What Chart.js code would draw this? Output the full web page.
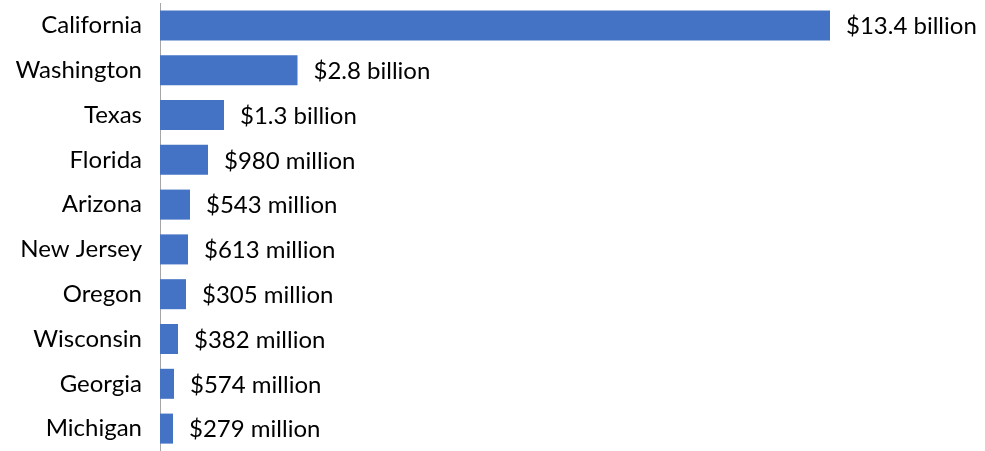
<!DOCTYPE html>
<html>
<head>
<meta charset="utf-8">
<script src="https://cdn.jsdelivr.net/npm/chart.js@4/dist/chart.umd.min.js"></script>
<style>
  html, body { margin: 0; padding: 0; background: #fff; }
  #wrap { width: 985px; height: 451px; }
</style>
</head>
<body>
<div id="wrap"><canvas id="myChart"></canvas></div>
<script>
// Estados (categorias)
var estados = ['California', 'Washington', 'Texas', 'Florida', 'Arizona',
  'New Jersey', 'Oregon', 'Wisconsin', 'Georgia', 'Michigan'];

// Largo de las barras (miles de millones)
var valores = [13.4, 2.75, 1.28, 0.96, 0.60, 0.56, 0.52, 0.36, 0.28, 0.26];

// Etiquetas que se muestran al final de cada barra
var etiquetas = ['$13.4 billion', '$2.8 billion', '$1.3 billion', '$980 million',
  '$543 million', '$613 million', '$305 million', '$382 million',
  '$574 million', '$279 million'];

var fuente = { family: 'Lato, "Open Sans", sans-serif', size: 24 };

// Plugin para dibujar las etiquetas al lado de las barras
var etiquetasPlugin = {
  id: 'etiquetas',
  afterDatasetsDraw: function(chart) {
    var c = chart.ctx;
    var meta = chart.getDatasetMeta(0);
    c.save();
    c.font = fuente.size + 'px ' + fuente.family;
    c.fillStyle = '#000';
    c.textAlign = 'left';
    c.textBaseline = 'middle';
    for (var i = 0; i < meta.data.length; i++) {
      var bar = meta.data[i];
      c.fillText(etiquetas[i], bar.x + 16, bar.y + 1);
    }
    c.restore();
  }
};

var ctx = document.getElementById('myChart').getContext('2d');
var myChart = new Chart(ctx, {
  type: 'bar',
  data: {
    labels: estados,
    datasets: [{
      data: valores,
      backgroundColor: '#4472C4',
      categoryPercentage: 1,
      barPercentage: 0.67
    }]
  },
  options: {
    indexAxis: 'y',
    responsive: true,
    maintainAspectRatio: false,
    animation: false,
    layout: { padding: { top: 3, right: 155, bottom: -4, left: 0 } },
    plugins: { legend: { display: false }, tooltip: { enabled: false } },
    scales: {
      x: { display: false, min: 0, max: 13.4 },
      y: {
        grid: { display: false, drawTicks: false },
        border: { display: true, color: '#a6a6a6', width: 1 },
        ticks: { color: '#000', font: fuente, padding: 18 },
        afterFit: function(scale) {
          scale.width = 160;
          scale.paddingTop = 0;
          scale.paddingBottom = 0;
        }
      }
    }
  },
  plugins: [etiquetasPlugin]
});
</script>
</body>
</html>
